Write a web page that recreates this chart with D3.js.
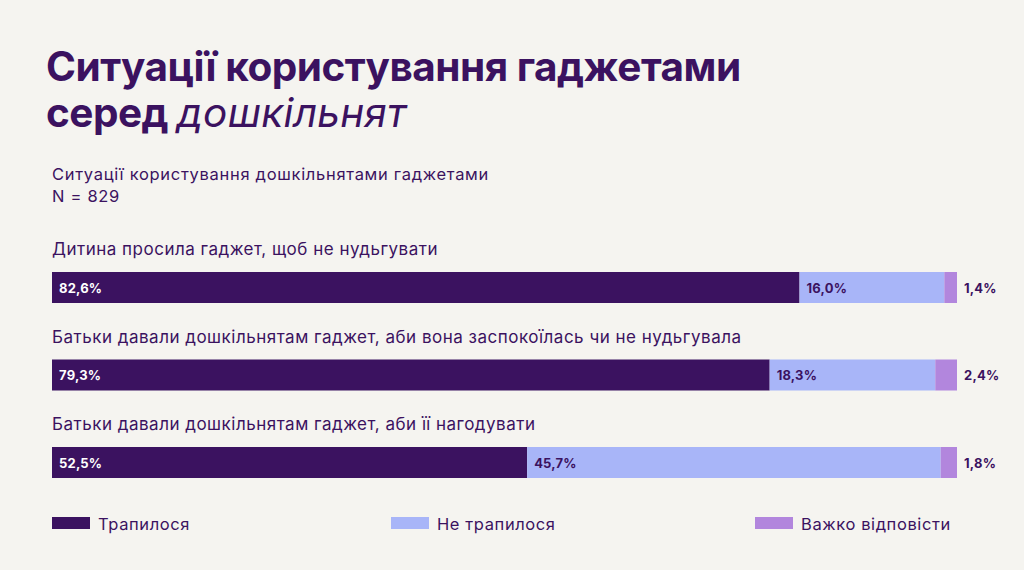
<!DOCTYPE html>
<html>
<head>
<meta charset="utf-8">
<script src="https://cdn.jsdelivr.net/npm/d3@7"></script>
<style>
  html, body { margin: 0; padding: 0; background: #f5f4f0; }
  svg { display: block; font-family: Inter, "Noto Sans", sans-serif; }
</style>
</head>
<body>
<svg id="chart" width="1024" height="570"></svg>
<script>
const categories = [
    "Дитина просила гаджет, щоб не нудьгувати",
    "Батьки давали дошкільнятам гаджет, аби вона заспокоїлась чи не нудьгувала",
    "Батьки давали дошкільнятам гаджет, аби її нагодувати"
];
const series = ["Трапилося", "Не трапилося", "Важко відповісти"];
const happened = [82.6, 79.3, 52.5];
const notHappened = [16.0, 18.3, 45.7];
const hardToSay = [1.4, 2.4, 1.8];
const colors = ["#3b1260", "#a8b5f8", "#b286dd"];

const svg = d3.select('#chart');
const ink = "#3b1260";

// titles
svg.append("text")
    .attr("x", 46)
    .attr("y", 81)
    .attr("fill", ink)
    .attr("font-size", 40.5)
    .attr("font-weight", 700)
    .attr("letter-spacing", "-0.5")
    .text("Ситуації користування гаджетами");
svg.append("text")
    .attr("x", 46)
    .attr("y", 127)
    .attr("fill", ink)
    .attr("font-size", 40.5)
    .attr("letter-spacing", "-0.5")
    .call(t => {
        t.append("tspan").attr("font-weight", 700).text("серед ");
        t.append("tspan").attr("font-weight", 400).attr("font-style", "italic")
            .attr("letter-spacing", "0.3").text("дошкільнят");
    });

svg.append("text")
    .attr("x", 52).attr("y", 180)
    .attr("fill", ink).attr("font-size", 16.5).attr("letter-spacing", "0.7")
    .text("Ситуації користування дошкільнятами гаджетами");
svg.append("text")
    .attr("x", 52).attr("y", 202)
    .attr("fill", ink).attr("font-size", 16.5).attr("letter-spacing", "0.7")
    .text("N = 829");

// stacked data
const rows = categories.map((c, i) => ({
    label: c,
    values: [happened[i], notHappened[i], hardToSay[i]]
}));

const x = d3.scaleLinear().domain([0, 100]).range([52, 957]);
const y = d3.scaleBand().domain(categories).range([272, 534.5]);
const barH = 31;

const group = svg.selectAll('.row')
    .data(rows)
    .enter()
    .append('g')
    .attr('class', 'row')
    .attr('transform', d => `translate(0, ${y(d.label)})`);

group.append('text')
    .attr('x', 52)
    .attr('y', -17)
    .attr('fill', ink)
    .attr('font-size', 17)
    .attr('letter-spacing', '0.5')
    .text(d => d.label);

group.each(function(d) {
    const g = d3.select(this);
    let acc = 0;
    d.values.forEach((v, k) => {
        const x0 = x(acc);
        const x1 = x(acc + v);
        g.append('rect')
            .attr('x', x0)
            .attr('y', 0)
            .attr('width', x1 - x0)
            .attr('height', barH)
            .attr('fill', colors[k]);
        const lbl = d3.format(".1f")(v).replace(".", ",") + "%";
        g.append('text')
            .attr('x', k === 2 ? x(100) + 7 : x0 + 7)
            .attr('y', barH / 2 + 5)
            .attr('fill', k === 0 ? "#ffffff" : ink)
            .attr('font-size', 13)
            .attr('font-weight', 700)
            .attr('letter-spacing', '0.2')
            .text(lbl);
        acc += v;
    });
});

// legend
const legendX = [52, 391, 755];
const legend = svg.selectAll('.legend')
    .data(series)
    .enter()
    .append('g')
    .attr('class', 'legend')
    .attr('transform', (d, i) => `translate(${legendX[i]}, 517)`);
legend.append('rect')
    .attr('width', 38)
    .attr('height', 12)
    .attr('fill', (d, i) => colors[i]);
legend.append('text')
    .attr('x', 46)
    .attr('y', 13)
    .attr('fill', ink)
    .attr('font-size', 16.5)
    .attr('letter-spacing', '0.6')
    .text(d => d);
</script>
</body>
</html>
